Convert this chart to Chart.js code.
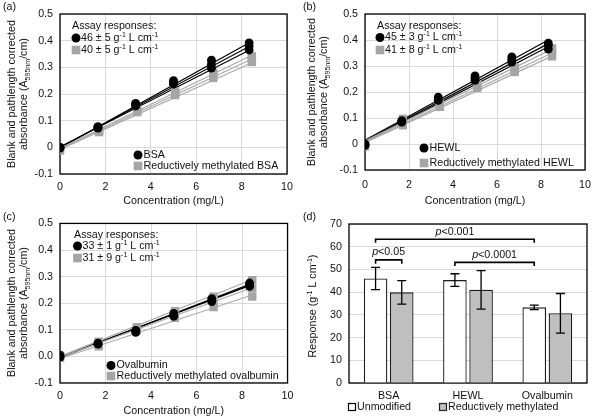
<!DOCTYPE html>
<html>
<head>
<meta charset="utf-8">
<script src="https://cdn.jsdelivr.net/npm/chart.js@4.4.1/dist/chart.umd.min.js"></script>
<style>
  html, body { margin: 0; padding: 0; background: #fff; }
  #wrap { position: relative; width: 600px; height: 420px; overflow: hidden; }
  .panel { position: absolute; width: 300px; height: 210px; }
</style>
</head>
<body>
<div id="wrap">
  <div class="panel" style="left:0;top:0"><canvas id="chartA" width="300" height="210"></canvas></div>
  <div class="panel" style="left:300px;top:0"><canvas id="chartB" width="300" height="210"></canvas></div>
  <div class="panel" style="left:0;top:210px"><canvas id="chartC" width="300" height="210"></canvas></div>
  <div class="panel" style="left:300px;top:210px"><canvas id="chartD" width="300" height="210"></canvas></div>
</div>
<script>
// ---- data ----
// (a) BSA
const concBsa = [0, 1.67, 3.33, 5.0, 6.67, 8.33];
const bsa1 = [0.000, 0.078, 0.165, 0.250, 0.327, 0.392];
const bsa2 = [0.000, 0.075, 0.160, 0.244, 0.312, 0.380];
const bsa3 = [-0.003, 0.072, 0.155, 0.237, 0.297, 0.365];
const concRmBsa = [0, 1.72, 3.4, 5.07, 6.75, 8.45];
const rmBsa1 = [-0.004, 0.065, 0.140, 0.210, 0.280, 0.342];
const rmBsa2 = [-0.008, 0.061, 0.136, 0.202, 0.270, 0.331];
const rmBsa3 = [-0.012, 0.057, 0.132, 0.196, 0.260, 0.320];
const bsaFits = [[-0.002, 0.392], [0.000, 0.378], [0.002, 0.364]];
const rmBsaFits = [[-0.004, 0.345], [-0.006, 0.331], [-0.008, 0.317]];

// (b) HEWL
const concHewl = [0, 1.67, 3.33, 5.0, 6.67, 8.33];
const hewl1 = [0.000, 0.090, 0.180, 0.262, 0.335, 0.388];
const hewl2 = [-0.003, 0.087, 0.173, 0.253, 0.325, 0.380];
const hewl3 = [-0.005, 0.084, 0.168, 0.245, 0.315, 0.365];
const concRmHewl = [0, 1.72, 3.4, 5.1, 6.8, 8.5];
const rmHewl1 = [-0.003, 0.097, 0.155, 0.228, 0.295, 0.368];
const rmHewl2 = [-0.006, 0.085, 0.149, 0.220, 0.285, 0.352];
const rmHewl3 = [-0.010, 0.072, 0.143, 0.215, 0.277, 0.337];
const hewlFits = [[0.015, 0.400], [0.012, 0.386], [0.010, 0.374]];
const rmHewlFits = [[0.012, 0.365], [0.008, 0.350], [0.005, 0.338]];

// (c) ovalbumin
const concOva = [0, 1.67, 3.33, 5.0, 6.67, 8.33];
const ova1 = [0.005, 0.050, 0.098, 0.162, 0.217, 0.276];
const ova2 = [0.000, 0.048, 0.094, 0.156, 0.211, 0.269];
const ova3 = [-0.003, 0.046, 0.090, 0.151, 0.206, 0.263];
const concRmOva = [0, 1.7, 3.38, 5.05, 6.75, 8.45];
const rmOva1 = [0.003, 0.055, 0.110, 0.170, 0.225, 0.287];
const rmOva2 = [0.000, 0.046, 0.105, 0.160, 0.210, 0.256];
const rmOva3 = [-0.005, 0.038, 0.098, 0.145, 0.185, 0.225];
const ovaFits = [[-0.005, 0.271], [-0.002, 0.266]];
const rmOvaFits = [[0.000, 0.289], [-0.003, 0.258], [-0.008, 0.231]];

const assayA = ['46 ± 5', '40 ± 5'];
const assayB = ['45 ± 3', '41 ± 8'];
const assayC = ['33 ± 1', '31 ± 9'];
const namesA = ['BSA', 'Reductively methylated BSA'];
const namesB = ['HEWL', 'Reductively methylated HEWL'];
const namesC = ['Ovalbumin', 'Reductively methylated ovalbumin'];

const yTicksAB = ['-0.1', '0', '0.1', '0.2', '0.3', '0.4', '0.5'];
const yTicksC = ['-0.1', '0.0', '0.1', '0.2', '0.3', '0.4', '0.5'];
const xTicks = ['0', '2', '4', '6', '8', '10'];

// (d) responses
const proteins = ['BSA', 'HEWL', 'Ovalbumin'];
const seriesD = ['Unmodified', 'Reductively methylated'];
const unmodified = [46.0, 45.3, 33.3];
const unmodifiedErr = [4.9, 2.8, 1.0];
const methylated = [39.9, 41.0, 30.7];
const methylatedErr = [5.2, 8.5, 8.7];
const yTicksD = ['0', '10', '20', '30', '40', '50', '60', '70'];
// brackets: [series, category] -> [series, category], bar height, drop end, label
const sigFrom = [[0, 0], [0, 0], [0, 1]];
const sigTo = [[1, 0], [0, 2], [0, 2]];
const sigTop = [54.2, 63.3, 53.1];
const sigDrop = [52.5, 61.7, 51.5];
const sigText = ['<0.05', '<0.001', '<0.0001'];

// ---- styles ----
const FONT = '"Liberation Sans", Arial, sans-serif';
const INK = '#111';
const GRAY = '#a5a5a5';
const GRID = '#d9d9d9';
const FS = 10.7;
Chart.defaults.font.family = FONT;
Chart.defaults.font.size = FS;
Chart.defaults.color = INK;

function fontFor(size, style) {
  const s = (style === 'sup' || style === 'sub') ? size * 0.66 : size;
  return (style === 'i' ? 'italic ' : '') + s + 'px ' + FONT;
}
function richWidth(ctx, parts, size) {
  let w = 0;
  for (const [txt, st] of parts) { ctx.font = fontFor(size, st); w += ctx.measureText(txt).width; }
  return w;
}
function drawRich(ctx, parts, x, y, size, align) {
  let cx = x;
  if (align === 'center') cx -= richWidth(ctx, parts, size) / 2;
  ctx.textBaseline = 'middle';
  ctx.textAlign = 'left';
  ctx.fillStyle = INK;
  for (const [txt, st] of parts) {
    ctx.font = fontFor(size, st);
    const dy = st === 'sup' ? -size * 0.32 : st === 'sub' ? size * 0.3 : 0;
    ctx.fillText(txt, cx, y + dy);
    cx += ctx.measureText(txt).width;
  }
}
function unitParts(s) {
  return [[s + ' g', ''], ['-1', 'sup'], [' L cm', ''], ['-1', 'sup']];
}

// draws text, legend markers and the plot frame
function notesPlugin(items) {
  return {
    id: 'notes',
    beforeDatasetsDraw(chart) {
      const { ctx, chartArea: a } = chart;
      ctx.save();
      ctx.strokeStyle = '#000';
      ctx.lineWidth = 1.3;
      ctx.strokeRect(a.left, a.top, a.right - a.left, a.bottom - a.top);
      ctx.restore();
    },
    afterDraw(chart) {
      const ctx = chart.ctx;
      ctx.save();
      for (const it of items) {
        if (it.kind === 'text') {
          drawRich(ctx, it.parts, it.x, it.y, it.size || FS, it.align);
        } else if (it.kind === 'vtext') {
          ctx.save();
          ctx.translate(it.x, it.y);
          ctx.rotate(-Math.PI / 2);
          drawRich(ctx, it.parts, 0, 0, it.size || FS, 'center');
          ctx.restore();
        } else if (it.kind === 'dot') {
          ctx.fillStyle = '#000';
          ctx.beginPath();
          ctx.arc(it.x, it.y, 4.5, 0, Math.PI * 2);
          ctx.fill();
        } else if (it.kind === 'box') {
          const h = it.half || 4.3;
          ctx.fillStyle = it.fill;
          ctx.fillRect(it.x - h, it.y - h, h * 2, h * 2);
          if (it.stroke) {
            ctx.strokeStyle = it.stroke;
            ctx.lineWidth = 1.2;
            ctx.strokeRect(it.x - h, it.y - h, h * 2, h * 2);
          }
        }
      }
      ctx.restore();
    }
  };
}

function lineNotes(tag, assay, names, p) {
  return [
    { kind: 'text', x: 3, y: 7, parts: [[tag, '']] },
    { kind: 'text', x: p.ax, y: p.ay, parts: [['Assay responses:', '']] },
    { kind: 'dot', x: p.mx, y: p.r1 },
    { kind: 'text', x: p.mx + 5, y: p.r1, parts: unitParts(assay[0]) },
    { kind: 'box', x: p.mx, y: p.r2, fill: GRAY },
    { kind: 'text', x: p.mx + 5, y: p.r2, parts: unitParts(assay[1]) },
    { kind: 'dot', x: p.lx, y: p.l1 },
    { kind: 'text', x: p.lx + 5.5, y: p.l1, parts: [[names[0], '']] },
    { kind: 'box', x: p.lx, y: p.l2, fill: GRAY },
    { kind: 'text', x: p.lx + 5.5, y: p.l2, parts: [[names[1], '']] },
    { kind: 'vtext', x: 12.5, y: p.cy, parts: [['Blank and pathlength corrected', '']] },
    { kind: 'vtext', x: 24.5, y: p.cy, parts: [['absorbance (A', ''], ['595nm', 'sub'], ['/cm)', '']] }
  ];
}

function pts(xs, ys) { return xs.map((x, i) => ({ x: x, y: ys[i] })); }

function lineDatasets(xs, reps, fits, isGray) {
  const out = [];
  const endX = xs[xs.length - 1];
  reps.forEach(r => out.push({
    data: pts(xs, r),
    showLine: false,
    pointStyle: isGray ? 'rect' : 'circle',
    pointRadius: isGray ? 5.9 : 4.4,
    backgroundColor: isGray ? GRAY : '#000',
    borderWidth: 0
  }));
  fits.forEach(f => out.push({
    data: [{ x: 0, y: f[0] }, { x: endX, y: f[1] }],
    showLine: true,
    pointRadius: 0,
    borderColor: isGray ? '#aaaaaa' : '#000',
    borderWidth: 1.2
  }));
  return out;
}

function scatterChart(id, datasets, box, yTicks, notes) {
  return new Chart(document.getElementById(id), {
    type: 'scatter',
    data: { datasets: datasets },
    plugins: [notesPlugin(notes)],
    options: {
      responsive: false,
      animation: false,
      layout: { padding: { top: box.top, right: 300 - box.right, left: 0, bottom: 0 } },
      plugins: { legend: { display: false }, tooltip: { enabled: false } },
      scales: {
        x: {
          type: 'linear', min: 0, max: 10,
          ticks: { stepSize: 2, padding: box.xPad, callback: (v, i) => xTicks[i] },
          grid: { color: GRID, drawTicks: false },
          border: { display: false },
          title: { display: true, text: 'Concentration (mg/L)', padding: { top: 0, bottom: 3 } },
          afterFit: s => { s.height = 210 - box.bottom; }
        },
        y: {
          type: 'linear', min: -0.1, max: 0.5,
          ticks: { stepSize: 0.1, padding: 7, callback: (v, i) => yTicks[i] },
          grid: { color: GRID, drawTicks: false },
          border: { display: false },
          afterFit: s => { s.width = box.left; }
        }
      }
    }
  });
}

scatterChart('chartA',
  [...lineDatasets(concBsa, [bsa1, bsa2, bsa3], [], false),
   ...lineDatasets(concRmBsa, [rmBsa1, rmBsa2, rmBsa3], [], true),
   ...lineDatasets(concRmBsa, [], rmBsaFits, true),
   ...lineDatasets(concBsa, [], bsaFits, false)],
  { left: 60, right: 289, top: 14, bottom: 174, xPad: 7 }, yTicksAB,
  lineNotes('(a)', assayA, namesA, { ax: 72, ay: 26, mx: 76, r1: 38, r2: 50, lx: 138, l1: 155, l2: 166, cy: 94 }));

scatterChart('chartB',
  [...lineDatasets(concHewl, [hewl1, hewl2, hewl3], [], false),
   ...lineDatasets(concRmHewl, [rmHewl1, rmHewl2, rmHewl3], [], true),
   ...lineDatasets(concRmHewl, [], rmHewlFits, true),
   ...lineDatasets(concHewl, [], hewlFits, false)],
  { left: 65, right: 290, top: 14, bottom: 170, xPad: 9 }, yTicksAB,
  lineNotes('(b)', assayB, namesB, { ax: 77, ay: 26, mx: 80, r1: 37.5, r2: 50, lx: 124, l1: 148, l2: 163, cy: 92 }));

scatterChart('chartC',
  [...lineDatasets(concOva, [ova1, ova2, ova3], [], false),
   ...lineDatasets(concRmOva, [rmOva1, rmOva2, rmOva3], [], true),
   ...lineDatasets(concRmOva, [], rmOvaFits, true),
   ...lineDatasets(concOva, [], ovaFits, false)],
  { left: 60, right: 289, top: 13, bottom: 173, xPad: 6.5 }, yTicksC,
  lineNotes('(c)', assayC, namesC, { ax: 74, ay: 25, mx: 77.5, r1: 36, r2: 48, lx: 111, l1: 155.5, l2: 166, cy: 93 }));

// ---- (d) bar chart ----
const errPlugin = {
  id: 'errbars',
  afterDatasetsDraw(chart) {
    const { ctx } = chart;
    const ys = chart.scales.y;
    const vals = [unmodified, methylated];
    const errs = [unmodifiedErr, methylatedErr];
    ctx.save();
    ctx.strokeStyle = '#000';
    ctx.lineWidth = 1.3;
    for (let s = 0; s < 2; s++) {
      const meta = chart.getDatasetMeta(s);
      meta.data.forEach((bar, i) => {
        const top = ys.getPixelForValue(vals[s][i] + errs[s][i]);
        const bot = ys.getPixelForValue(vals[s][i] - errs[s][i]);
        ctx.beginPath();
        ctx.moveTo(bar.x, top); ctx.lineTo(bar.x, bot);
        ctx.moveTo(bar.x - 4.5, top); ctx.lineTo(bar.x + 4.5, top);
        ctx.moveTo(bar.x - 4.5, bot); ctx.lineTo(bar.x + 4.5, bot);
        ctx.stroke();
      });
    }
    // significance brackets
    for (let k = 0; k < sigText.length; k++) {
      const x1 = chart.getDatasetMeta(sigFrom[k][0]).data[sigFrom[k][1]].x;
      const x2 = chart.getDatasetMeta(sigTo[k][0]).data[sigTo[k][1]].x;
      const yt = ys.getPixelForValue(sigTop[k]);
      const yd = ys.getPixelForValue(sigDrop[k]);
      ctx.lineWidth = 1.6;
      ctx.beginPath();
      ctx.moveTo(x1, yd); ctx.lineTo(x1, yt); ctx.lineTo(x2, yt); ctx.lineTo(x2, yd);
      ctx.stroke();
      drawRich(ctx, [['p', 'i'], [sigText[k], '']], (x1 + x2) / 2, yt - 7.5, FS, 'center');
    }
    ctx.restore();
  }
};

new Chart(document.getElementById('chartD'), {
  type: 'bar',
  data: {
    labels: proteins,
    datasets: [
      { label: seriesD[0], data: unmodified, backgroundColor: '#fff', borderColor: '#1a1a1a', borderWidth: 1.3,
        barPercentage: 0.9, categoryPercentage: 0.66 },
      { label: seriesD[1], data: methylated, backgroundColor: '#bfbfbf', borderColor: '#1a1a1a', borderWidth: 1.3,
        barPercentage: 0.9, categoryPercentage: 0.66 }
    ]
  },
  plugins: [errPlugin, notesPlugin([
    { kind: 'text', x: 3, y: 7, parts: [['(d)', '']] },
    { kind: 'vtext', x: 13, y: 96, parts: [['Response (g', ''], ['-1', 'sup'], [' L cm', ''], ['-1', 'sup'], [')', '']] },
    { kind: 'box', x: 52, y: 197, fill: '#fff', stroke: '#000', half: 3.5 },
    { kind: 'text', x: 57, y: 197, parts: [[seriesD[0], '']] },
    { kind: 'box', x: 143, y: 197, fill: '#bfbfbf', stroke: '#222', half: 3.5 },
    { kind: 'text', x: 148, y: 197, parts: [[seriesD[1], '']] }
  ])],
  options: {
    responsive: false,
    animation: false,
    layout: { padding: { top: 14, right: 13, left: 0, bottom: 0 } },
    plugins: { legend: { display: false }, tooltip: { enabled: false } },
    scales: {
      x: {
        grid: { display: false, drawTicks: false },
        border: { display: false },
        ticks: { padding: 6.5 },
        afterFit: s => { s.height = 37; }
      },
      y: {
        min: 0, max: 70,
        ticks: { stepSize: 10, padding: 7, callback: (v, i) => yTicksD[i] },
        grid: { color: GRID, drawTicks: false },
        border: { display: false },
        afterFit: s => { s.width = 49; }
      }
    }
  }
});
</script>
</body>
</html>
